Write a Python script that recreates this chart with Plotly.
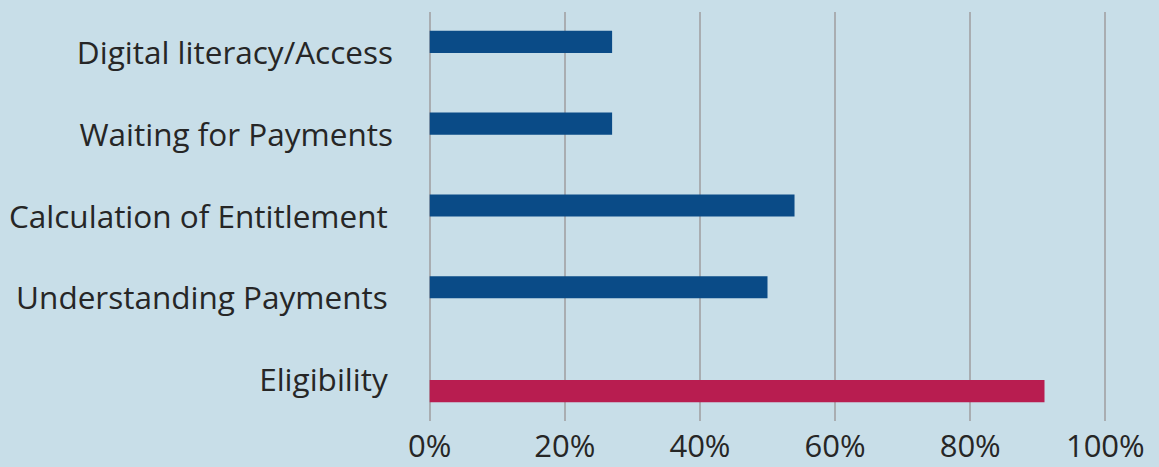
import plotly.graph_objects as go

categories = ["Eligibility", "Understanding Payments", "Calculation of Entitlement",
              "Waiting for Payments", "Digital literacy/Access"]
category_labels = ["Eligibility\u2009", "Understanding Payments\u2009",
                   "Calculation of Entitlement\u2009",
                   "Waiting for Payments", "Digital literacy/Access"]
blue_cats = ["Understanding Payments", "Calculation of Entitlement",
             "Waiting for Payments", "Digital literacy/Access"]
blue_vals = [50, 54, 27, 27]
red_cats = ["Eligibility"]
red_vals = [91]
x_ticks = [0, 20, 40, 60, 80, 100]
x_labels = ["0%", "20%", "40%", "60%", "80%", "100%"]

BG = "#c8dee8"
fig = go.Figure()
fig.add_trace(go.Bar(y=red_cats, x=red_vals, orientation="h", marker_color="#b81d50",
                     width=0.27, offset=-0.27, marker_line_width=0))
fig.add_trace(go.Bar(y=blue_cats, x=blue_vals, orientation="h", marker_color="#0a4b87",
                     width=0.27, offset=0.0, marker_line_width=0))

fig.update_layout(
    width=1159, height=467,
    margin=dict(l=428, r=52, t=12, b=46, autoexpand=False),
    paper_bgcolor=BG, plot_bgcolor=BG,
    showlegend=False, barmode="overlay",
    font=dict(family="Open Sans", color="#262626", size=31.5),
)
fig.update_xaxes(range=[-0.25, 100.25], tickvals=x_ticks, ticktext=x_labels,
                 tickfont=dict(size=31), automargin=False,
                 showgrid=True, gridcolor="#a9adb1", gridwidth=2,
                 zeroline=False, showline=False, ticks="", ticklabelstandoff=4)
fig.update_yaxes(categoryorder="array", categoryarray=categories,
                 tickvals=categories, ticktext=category_labels, automargin=False,
                 showgrid=False, zeroline=False, showline=False,
                 ticks="", ticklabelstandoff=34)
fig.write_html("out.html", config={"displayModeBar": False},
               post_script="document.body.style.margin='0';")
